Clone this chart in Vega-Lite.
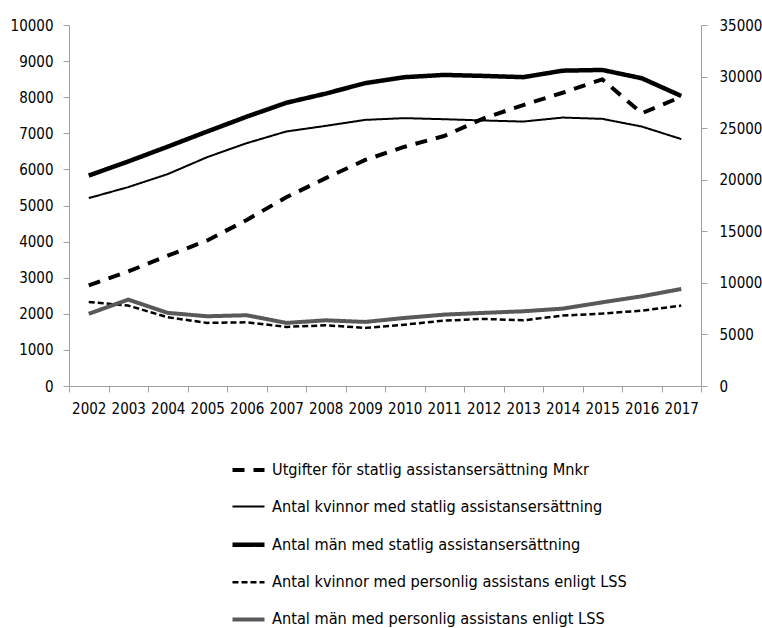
{
  "$schema": "https://vega.github.io/schema/vega-lite/v6.json",
  "width": 632,
  "height": 361,
  "autosize": {"type": "none"},
  "padding": {"left": 69, "top": 25, "right": 61, "bottom": 242},
  "background": "white",
  "config": {
    "view": {"stroke": null},
    "font": "Liberation Sans Narrow, DejaVu Sans Condensed, sans-serif",
    "axis": {
      "labelFont": "Liberation Sans Narrow, DejaVu Sans Condensed, sans-serif",
      "labelFontSize": 16,
      "labelColor": "#000000",
      "domainColor": "#a0a0a0",
      "tickColor": "#a0a0a0",
      "tickSize": 6,
      "grid": false,
      "title": null
    },
    "legend": {
      "labelFont": "Liberation Sans Narrow, DejaVu Sans Condensed, sans-serif",
      "labelFontSize": 16.2,
      "labelColor": "#000000",
      "labelLimit": 0,
      "symbolType": "stroke",
      "symbolSize": 1024,
      "labelOffset": 5,
      "rowPadding": 10.6,
      "orient": "none",
      "legendX": 161,
      "legendY": 427,
      "direction": "vertical",
      "padding": 0
    }
  },
  "data": {
    "values": [
      {"year": "2002", "series": "Utgifter för statlig assistansersättning Mnkr", "value": 9750},
      {"year": "2003", "series": "Utgifter för statlig assistansersättning Mnkr", "value": 11100},
      {"year": "2004", "series": "Utgifter för statlig assistansersättning Mnkr", "value": 12630},
      {"year": "2005", "series": "Utgifter för statlig assistansersättning Mnkr", "value": 14110},
      {"year": "2006", "series": "Utgifter för statlig assistansersättning Mnkr", "value": 16100},
      {"year": "2007", "series": "Utgifter för statlig assistansersättning Mnkr", "value": 18300},
      {"year": "2008", "series": "Utgifter för statlig assistansersättning Mnkr", "value": 20150},
      {"year": "2009", "series": "Utgifter för statlig assistansersättning Mnkr", "value": 21920},
      {"year": "2010", "series": "Utgifter för statlig assistansersättning Mnkr", "value": 23200},
      {"year": "2011", "series": "Utgifter för statlig assistansersättning Mnkr", "value": 24240},
      {"year": "2012", "series": "Utgifter för statlig assistansersättning Mnkr", "value": 25950},
      {"year": "2013", "series": "Utgifter för statlig assistansersättning Mnkr", "value": 27240},
      {"year": "2014", "series": "Utgifter för statlig assistansersättning Mnkr", "value": 28430},
      {"year": "2015", "series": "Utgifter för statlig assistansersättning Mnkr", "value": 29730},
      {"year": "2016", "series": "Utgifter för statlig assistansersättning Mnkr", "value": 26440},
      {"year": "2017", "series": "Utgifter för statlig assistansersättning Mnkr", "value": 28040},

      {"year": "2002", "series": "Antal kvinnor med statlig assistansersättning", "value": 5205},
      {"year": "2003", "series": "Antal kvinnor med statlig assistansersättning", "value": 5510},
      {"year": "2004", "series": "Antal kvinnor med statlig assistansersättning", "value": 5870},
      {"year": "2005", "series": "Antal kvinnor med statlig assistansersättning", "value": 6340},
      {"year": "2006", "series": "Antal kvinnor med statlig assistansersättning", "value": 6727},
      {"year": "2007", "series": "Antal kvinnor med statlig assistansersättning", "value": 7050},
      {"year": "2008", "series": "Antal kvinnor med statlig assistansersättning", "value": 7206},
      {"year": "2009", "series": "Antal kvinnor med statlig assistansersättning", "value": 7372},
      {"year": "2010", "series": "Antal kvinnor med statlig assistansersättning", "value": 7420},
      {"year": "2011", "series": "Antal kvinnor med statlig assistansersättning", "value": 7390},
      {"year": "2012", "series": "Antal kvinnor med statlig assistansersättning", "value": 7355},
      {"year": "2013", "series": "Antal kvinnor med statlig assistansersättning", "value": 7325},
      {"year": "2014", "series": "Antal kvinnor med statlig assistansersättning", "value": 7436},
      {"year": "2015", "series": "Antal kvinnor med statlig assistansersättning", "value": 7400},
      {"year": "2016", "series": "Antal kvinnor med statlig assistansersättning", "value": 7187},
      {"year": "2017", "series": "Antal kvinnor med statlig assistansersättning", "value": 6840},

      {"year": "2002", "series": "Antal män med statlig assistansersättning", "value": 5830},
      {"year": "2003", "series": "Antal män med statlig assistansersättning", "value": 6220},
      {"year": "2004", "series": "Antal män med statlig assistansersättning", "value": 6630},
      {"year": "2005", "series": "Antal män med statlig assistansersättning", "value": 7050},
      {"year": "2006", "series": "Antal män med statlig assistansersättning", "value": 7460},
      {"year": "2007", "series": "Antal män med statlig assistansersättning", "value": 7845},
      {"year": "2008", "series": "Antal män med statlig assistansersättning", "value": 8100},
      {"year": "2009", "series": "Antal män med statlig assistansersättning", "value": 8390},
      {"year": "2010", "series": "Antal män med statlig assistansersättning", "value": 8555},
      {"year": "2011", "series": "Antal män med statlig assistansersättning", "value": 8617},
      {"year": "2012", "series": "Antal män med statlig assistansersättning", "value": 8590},
      {"year": "2013", "series": "Antal män med statlig assistansersättning", "value": 8555},
      {"year": "2014", "series": "Antal män med statlig assistansersättning", "value": 8735},
      {"year": "2015", "series": "Antal män med statlig assistansersättning", "value": 8755},
      {"year": "2016", "series": "Antal män med statlig assistansersättning", "value": 8525},
      {"year": "2017", "series": "Antal män med statlig assistansersättning", "value": 8035},

      {"year": "2002", "series": "Antal kvinnor med personlig assistans enligt LSS", "value": 2330},
      {"year": "2003", "series": "Antal kvinnor med personlig assistans enligt LSS", "value": 2227},
      {"year": "2004", "series": "Antal kvinnor med personlig assistans enligt LSS", "value": 1904},
      {"year": "2005", "series": "Antal kvinnor med personlig assistans enligt LSS", "value": 1748},
      {"year": "2006", "series": "Antal kvinnor med personlig assistans enligt LSS", "value": 1765},
      {"year": "2007", "series": "Antal kvinnor med personlig assistans enligt LSS", "value": 1637},
      {"year": "2008", "series": "Antal kvinnor med personlig assistans enligt LSS", "value": 1682},
      {"year": "2009", "series": "Antal kvinnor med personlig assistans enligt LSS", "value": 1610},
      {"year": "2010", "series": "Antal kvinnor med personlig assistans enligt LSS", "value": 1700},
      {"year": "2011", "series": "Antal kvinnor med personlig assistans enligt LSS", "value": 1812},
      {"year": "2012", "series": "Antal kvinnor med personlig assistans enligt LSS", "value": 1859},
      {"year": "2013", "series": "Antal kvinnor med personlig assistans enligt LSS", "value": 1820},
      {"year": "2014", "series": "Antal kvinnor med personlig assistans enligt LSS", "value": 1950},
      {"year": "2015", "series": "Antal kvinnor med personlig assistans enligt LSS", "value": 2005},
      {"year": "2016", "series": "Antal kvinnor med personlig assistans enligt LSS", "value": 2088},
      {"year": "2017", "series": "Antal kvinnor med personlig assistans enligt LSS", "value": 2227},

      {"year": "2002", "series": "Antal män med personlig assistans enligt LSS", "value": 2000},
      {"year": "2003", "series": "Antal män med personlig assistans enligt LSS", "value": 2393},
      {"year": "2004", "series": "Antal män med personlig assistans enligt LSS", "value": 2025},
      {"year": "2005", "series": "Antal män med personlig assistans enligt LSS", "value": 1932},
      {"year": "2006", "series": "Antal män med personlig assistans enligt LSS", "value": 1960},
      {"year": "2007", "series": "Antal män med personlig assistans enligt LSS", "value": 1748},
      {"year": "2008", "series": "Antal män med personlig assistans enligt LSS", "value": 1820},
      {"year": "2009", "series": "Antal män med personlig assistans enligt LSS", "value": 1775},
      {"year": "2010", "series": "Antal män med personlig assistans enligt LSS", "value": 1886},
      {"year": "2011", "series": "Antal män med personlig assistans enligt LSS", "value": 1978},
      {"year": "2012", "series": "Antal män med personlig assistans enligt LSS", "value": 2025},
      {"year": "2013", "series": "Antal män med personlig assistans enligt LSS", "value": 2070},
      {"year": "2014", "series": "Antal män med personlig assistans enligt LSS", "value": 2144},
      {"year": "2015", "series": "Antal män med personlig assistans enligt LSS", "value": 2318},
      {"year": "2016", "series": "Antal män med personlig assistans enligt LSS", "value": 2484},
      {"year": "2017", "series": "Antal män med personlig assistans enligt LSS", "value": 2688}
    ]
  },
  "encoding": {
    "x": {
      "field": "year",
      "type": "ordinal",
      "scale": {"type": "band", "paddingInner": 0, "paddingOuter": 0},
      "bandPosition": 0.5,
      "axis": {"labelAngle": 0, "tickBand": "extent", "labelPadding": 9, "labelFontSize": 15}
    },
    "color": {
      "field": "series",
      "type": "nominal",
      "title": null,
      "scale": {
        "domain": ["Utgifter för statlig assistansersättning Mnkr", "Antal kvinnor med statlig assistansersättning", "Antal män med statlig assistansersättning", "Antal kvinnor med personlig assistans enligt LSS", "Antal män med personlig assistans enligt LSS"],
        "range": ["#000000", "#000000", "#000000", "#000000", "#595959"]
      }
    },
    "strokeDash": {
      "field": "series",
      "type": "nominal",
      "title": null,
      "scale": {
        "domain": ["Utgifter för statlig assistansersättning Mnkr", "Antal kvinnor med statlig assistansersättning", "Antal män med statlig assistansersättning", "Antal kvinnor med personlig assistans enligt LSS", "Antal män med personlig assistans enligt LSS"],
        "range": [[12, 9], [1, 0], [1, 0], [6, 3], [1, 0]]
      }
    },
    "strokeWidth": {
      "field": "series",
      "type": "nominal",
      "title": null,
      "scale": {
        "type": "ordinal",
        "domain": ["Utgifter för statlig assistansersättning Mnkr", "Antal kvinnor med statlig assistansersättning", "Antal män med statlig assistansersättning", "Antal kvinnor med personlig assistans enligt LSS", "Antal män med personlig assistans enligt LSS"],
        "range": [4, 2, 4.5, 2.5, 4]
      }
    }
  },
  "layer": [
    {
      "transform": [{"filter": "datum.series !== 'Utgifter för statlig assistansersättning Mnkr'"}],
      "mark": {"type": "line", "strokeJoin": "round"},
      "encoding": {
        "y": {
          "field": "value",
          "type": "quantitative",
          "scale": {"domain": [0, 10000], "nice": false},
          "axis": {"values": [0, 1000, 2000, 3000, 4000, 5000, 6000, 7000, 8000, 9000, 10000], "labelPadding": 10, "labelFontSize": 15, "format": "d"}
        }
      }
    },
    {
      "transform": [{"filter": "datum.series === 'Utgifter för statlig assistansersättning Mnkr'"}],
      "mark": {"type": "line", "strokeJoin": "round"},
      "encoding": {
        "y": {
          "field": "value",
          "type": "quantitative",
          "scale": {"domain": [0, 35000], "nice": false},
          "axis": {"orient": "right", "values": [0, 5000, 10000, 15000, 20000, 25000, 30000, 35000], "labelPadding": 12, "labelFontSize": 15, "format": "d"}
        }
      }
    }
  ],
  "resolve": {"scale": {"y": "independent"}}
}
